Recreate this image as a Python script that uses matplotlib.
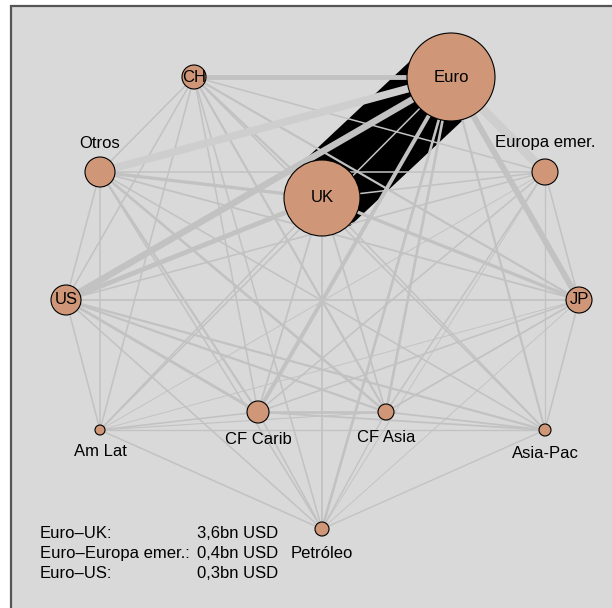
import matplotlib.pyplot as plt
from matplotlib.patches import Circle, Rectangle

plt.rcParams['font.family'] = ['Liberation Sans', 'DejaVu Sans']

# Nodes (pixel positions) and sizes
node_names = ['Euro', 'UK', 'CH', 'Otros', 'Europa emer.', 'US', 'JP',
              'Am Lat', 'CF Carib', 'CF Asia', 'Asia-Pac', 'Petróleo']
node_x = [451, 322, 194, 100, 545, 66, 579, 100, 258, 386, 545, 322]
node_y = [77, 198, 77, 172, 172, 300, 300, 430, 412, 412, 430, 529]
node_r = [44, 38, 12, 15, 13, 15, 13, 5, 11, 8, 6, 7]

# Edges: source, target, volume (bn USD, estimated)
edge_src = ['Euro', 'Euro', 'Euro', 'Euro', 'Euro', 'Euro', 'Euro', 'Euro', 'Euro', 'Euro', 'Euro',
            'UK', 'UK', 'UK', 'UK', 'UK', 'UK', 'UK', 'UK', 'UK', 'UK',
            'CH', 'CH', 'CH', 'CH', 'CH', 'CH', 'CH', 'CH', 'CH',
            'Otros', 'Otros', 'Otros', 'Otros', 'Otros', 'Otros', 'Otros', 'Otros',
            'Europa emer.', 'Europa emer.', 'Europa emer.', 'Europa emer.', 'Europa emer.',
            'Europa emer.', 'Europa emer.',
            'US', 'US', 'US', 'US', 'US', 'US',
            'JP', 'JP', 'JP', 'JP', 'JP',
            'Am Lat', 'Am Lat', 'Am Lat', 'Am Lat',
            'CF Carib', 'CF Carib', 'CF Carib',
            'CF Asia', 'CF Asia',
            'Asia-Pac']
edge_dst = ['UK', 'CH', 'Otros', 'Europa emer.', 'US', 'JP', 'Am Lat', 'CF Carib', 'CF Asia',
            'Asia-Pac', 'Petróleo',
            'CH', 'Otros', 'Europa emer.', 'US', 'JP', 'Am Lat', 'CF Carib', 'CF Asia', 'Asia-Pac',
            'Petróleo',
            'Otros', 'Europa emer.', 'US', 'JP', 'Am Lat', 'CF Carib', 'CF Asia', 'Asia-Pac',
            'Petróleo',
            'Europa emer.', 'US', 'JP', 'Am Lat', 'CF Carib', 'CF Asia', 'Asia-Pac', 'Petróleo',
            'US', 'JP', 'Am Lat', 'CF Carib', 'CF Asia', 'Asia-Pac', 'Petróleo',
            'JP', 'Am Lat', 'CF Carib', 'CF Asia', 'Asia-Pac', 'Petróleo',
            'Am Lat', 'CF Carib', 'CF Asia', 'Asia-Pac', 'Petróleo',
            'CF Carib', 'CF Asia', 'Asia-Pac', 'Petróleo',
            'CF Asia', 'Asia-Pac', 'Petróleo',
            'Asia-Pac', 'Petróleo',
            'Petróleo']
edge_bn = [3.6, 0.22, 0.35, 0.4, 0.3, 0.27, 0.07, 0.18, 0.12, 0.1, 0.12,
           0.1, 0.15, 0.07, 0.22, 0.15, 0.07, 0.08, 0.08, 0.07, 0.08,
           0.07, 0.07, 0.07, 0.1, 0.07, 0.07, 0.1, 0.07, 0.07,
           0.07, 0.07, 0.08, 0.07, 0.1, 0.12, 0.07, 0.07,
           0.07, 0.07, 0.04, 0.07, 0.07, 0.06, 0.04,
           0.08, 0.07, 0.13, 0.1, 0.1, 0.07,
           0.04, 0.07, 0.08, 0.07, 0.04,
           0.07, 0.05, 0.06, 0.07,
           0.12, 0.08, 0.07,
           0.08, 0.06,
           0.06]
light_edges = [('Euro', 'Otros'), ('Euro', 'Europa emer.')]

legend_labels = ['Euro–UK:', 'Euro–Europa emer.:', 'Euro–US:']
legend_values = ['3,6bn USD', '0,4bn USD', '0,3bn USD']

PX_PER_BN = 22.0
DPI = 100

fig = plt.figure(figsize=(6.12, 6.08), dpi=DPI)
ax = fig.add_axes([0, 0, 1, 1])
ax.set_xlim(0, 612)
ax.set_ylim(608, 0)
ax.axis('off')

# panel background with frame
ax.add_patch(Rectangle((11, 6), 640, 640, facecolor='#d9d9d9',
                       edgecolor='#555555', linewidth=1.6, zorder=0))

pos = {n: (x, y) for n, x, y in zip(node_names, node_x, node_y)}
px2pt = 72.0 / DPI

# biggest link drawn as a black band underneath everything else
for s, d, v in zip(edge_src, edge_dst, edge_bn):
    if v > 1:
        (x0, y0), (x1, y1) = pos[s], pos[d]
        ax.plot([x0, x1], [y0, y1], color='black', linewidth=v * PX_PER_BN * px2pt,
                solid_capstyle='butt', zorder=1)

# other links, thin ones first
order = sorted(range(len(edge_bn)), key=lambda i: edge_bn[i])
for i in order:
    s, d, v = edge_src[i], edge_dst[i], edge_bn[i]
    if v > 1:
        continue
    (x0, y0), (x1, y1) = pos[s], pos[d]
    light = (s, d) in light_edges or (d, s) in light_edges
    col = '#cecece' if light else '#c2c2c2'
    ax.plot([x0, x1], [y0, y1], color=col, linewidth=max(v * PX_PER_BN, 0.9) * px2pt,
            solid_capstyle='butt', zorder=2)

# nodes
for n, x, y, r in zip(node_names, node_x, node_y, node_r):
    ax.add_patch(Circle((x, y), r, facecolor='#cf9677', edgecolor='black',
                        linewidth=0.8, zorder=3))

# node labels
fs = 12
inside = ['Euro', 'UK', 'CH', 'US', 'JP']
for n, x, y, r in zip(node_names, node_x, node_y, node_r):
    if n in inside:
        ax.text(x, y, n, fontsize=fs, ha='center', va='center', zorder=4)
    elif n in ['Otros', 'Europa emer.']:
        ax.text(x, y - 29, n, fontsize=fs, ha='center', va='center', zorder=4)
    else:
        ax.text(x, y + r + 17, n, fontsize=fs, ha='center', va='center', zorder=4)

# legend text
for k, (lab, val) in enumerate(zip(legend_labels, legend_values)):
    yy = 534 + k * 19.5
    ax.text(40, yy, lab, fontsize=fs, ha='left', va='center')
    ax.text(197, yy, val, fontsize=fs, ha='left', va='center')

fig.savefig('out.png', dpi=DPI, facecolor='white')
